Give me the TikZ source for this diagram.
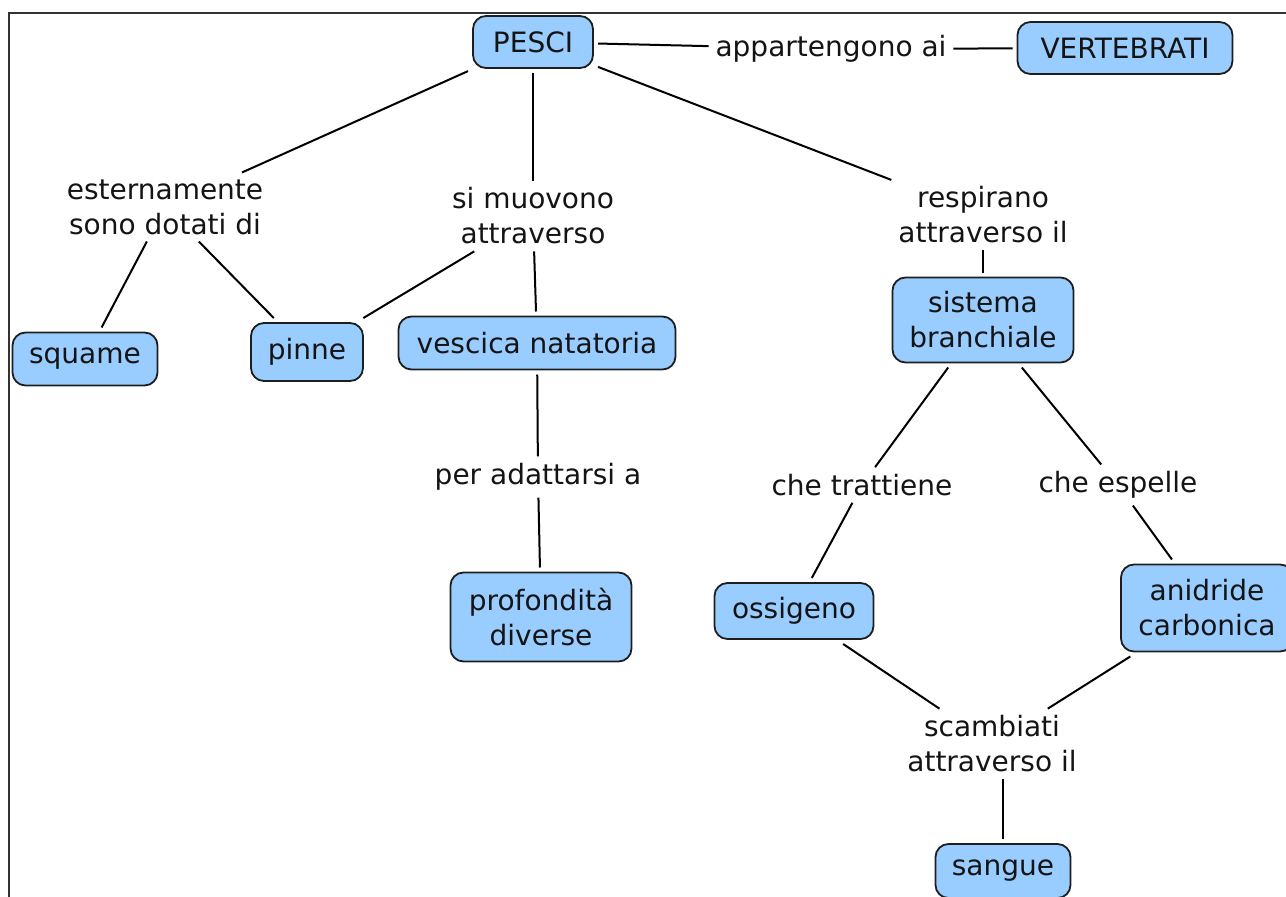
\documentclass[tikz,border=0pt]{standalone}
\usepackage{fontspec}
\setmainfont{DejaVu Sans}
\definecolor{boxfill}{RGB}{153,204,255}
\definecolor{boxedge}{RGB}{30,30,30}
\begin{document}
\begin{tikzpicture}[x=1pt,y=-1pt,
  every node/.style={font=\fontsize{28}{35}\selectfont, align=center, text=black!92},
  concept/.style={draw=boxedge, line width=1.8pt, fill=boxfill, rounded corners=13pt,
    inner sep=0pt, outer sep=5pt},
  linkword/.style={inner sep=3pt, outer sep=4pt},
  link/.style={line width=2pt, black}]
\useasboundingbox (0,0) rectangle (1286,897);
% frame
\draw[line width=2.2pt, black!80] (9,897) -- (9,13) -- (1286,13);

% concepts
\node[concept, minimum width=120pt, minimum height=52pt] (pesci) at (533,42) {PESCI};
\node[concept, minimum width=215pt, minimum height=52pt] (vert) at (1125,48) {VERTEBRATI};
\node[concept, minimum width=145pt, minimum height=53pt] (squame) at (85,359) {squame};
\node[concept, minimum width=112pt, minimum height=58pt] (pinne) at (307,352) {pinne};
\node[concept, minimum width=277pt, minimum height=53pt] (vescica) at (537,343) {vescica natatoria};
\node[concept, minimum width=181pt, minimum height=85pt] (sistema) at (983,320) {sistema\\branchiale};
\node[concept, minimum width=181pt, minimum height=89pt] (prof) at (541,617) {profondità\\diverse};
\node[concept, minimum width=159pt, minimum height=56pt] (oss) at (794,611) {ossigeno};
\node[concept, minimum width=172pt, minimum height=87pt] (anid) at (1207,608) {anidride\\carbonica};
\node[concept, minimum width=135pt, minimum height=54pt] (sangue) at (1003,871) {sangue};

% linking phrases
\node[linkword] (app) at (831,49) {appartengono ai};
\node[linkword] (est) at (165,207) {esternamente\\sono dotati di};
\node[linkword] (muov) at (533,216) {si muovono\\attraverso};
\node[linkword] (resp) at (983,215) {respirano\\attraverso il};
\node[linkword] (adat) at (538,477) {per adattarsi a};
\node[linkword] (tratt) at (862,485) {che trattiene};
\node[linkword] (esp) at (1118,485) {che espelle};
\node[linkword] (scamb) at (992,744) {scambiati\\attraverso il};

% connectors
\draw[link] (pesci) -- (app);
\draw[link] (app) -- (vert);
\draw[link] (pesci) -- (est);
\draw[link] (pesci) -- (muov);
\draw[link] (pesci) -- (resp);
\draw[link] (est) -- (squame);
\draw[link] (est) -- (pinne);
\draw[link] (muov) -- (pinne);
\draw[link] (muov) -- (vescica);
\draw[link] (vescica) -- (adat);
\draw[link] (adat) -- (prof);
\draw[link] (resp) -- (sistema);
\draw[link] (sistema) -- (tratt);
\draw[link] (sistema) -- (esp);
\draw[link] (tratt) -- (oss);
\draw[link] (esp) -- (anid);
\draw[link] (oss) -- (scamb);
\draw[link] (anid) -- (scamb);
\draw[link] (scamb.south -| sangue.north) -- (sangue.north);
\end{tikzpicture}
\end{document}
